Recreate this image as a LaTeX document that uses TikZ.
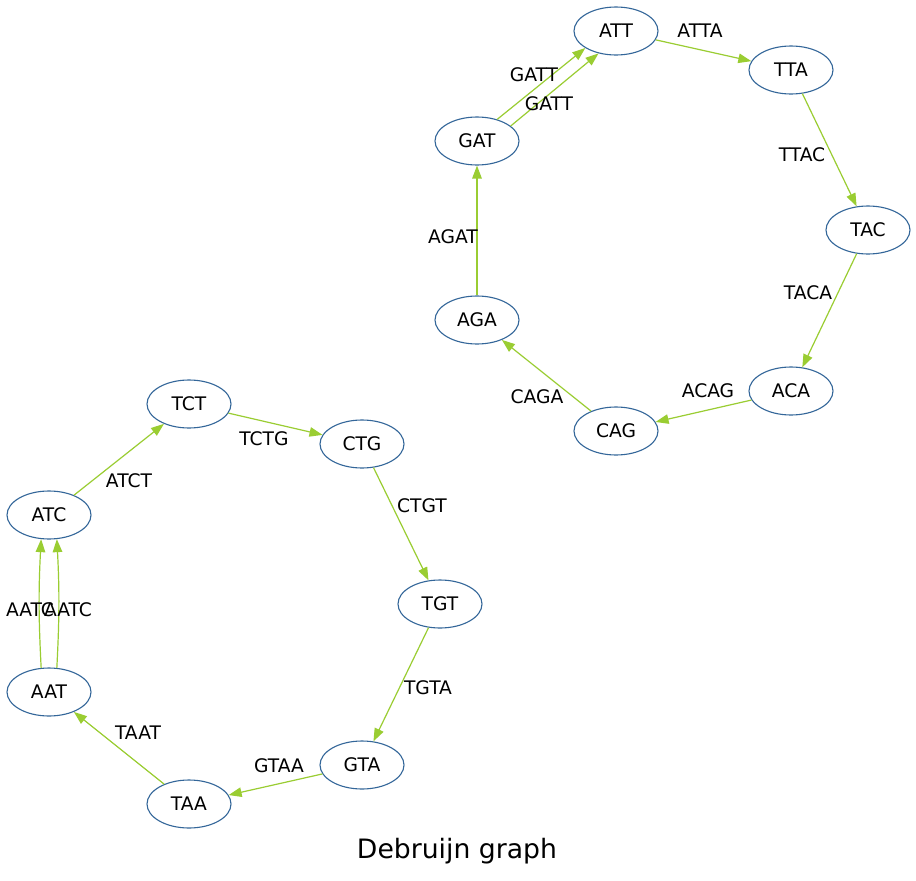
\documentclass[tikz,border=0pt]{standalone}
\usepackage{fontspec}
\setmainfont{DejaVu Sans}
\usetikzlibrary{shapes.geometric,arrows.meta}
\definecolor{nodeblue}{HTML}{336699}
\definecolor{edgegreen}{HTML}{9ACD32}
\begin{document}
\begin{tikzpicture}[x=1pt,y=-1pt,
  kmer/.style={ellipse,draw=nodeblue,line width=1.1pt,minimum width=84pt,minimum height=48pt,inner sep=0pt,font=\fontsize{18.67}{20}\selectfont},
  elab/.style={inner sep=0pt,font=\fontsize{18.67}{20}\selectfont},
  edge/.style={draw=edgegreen,line width=1.2pt,-{Triangle[length=13pt,width=9.5pt]}}]
\useasboundingbox[fill=white] (0,0) rectangle (916,881);
% right cycle
\node[kmer] (att) at (616,31) {ATT};
\node[kmer] (tta) at (791,70) {TTA};
\node[kmer] (tac) at (868,230) {TAC};
\node[kmer] (aca) at (791,391) {ACA};
\node[kmer] (cag) at (616,431) {CAG};
\node[kmer] (aga) at (477,320) {AGA};
\node[kmer] (gat) at (477,141) {GAT};
% left cycle
\node[kmer] (tct) at (189,404) {TCT};
\node[kmer] (ctg) at (362,444) {CTG};
\node[kmer] (tgt) at (440,604) {TGT};
\node[kmer] (gta) at (362,765) {GTA};
\node[kmer] (taa) at (189,804) {TAA};
\node[kmer] (aat) at (49,692) {AAT};
\node[kmer] (atc) at (49,515) {ATC};
% edges right
\draw[edge] (att) -- (tta);
\draw[edge] (tta) -- (tac);
\draw[edge] (tac) -- (aca);
\draw[edge] (aca) -- (cag);
\draw[edge] (cag) -- (aga);
\draw[edge] (aga) -- (gat);
\draw[edge] (gat.47) -- (att.209);
\draw[edge] (gat.24) -- (att.232);
% edges left
\draw[edge] (tct) -- (ctg);
\draw[edge] (ctg) -- (tgt);
\draw[edge] (tgt) -- (gta);
\draw[edge] (gta) -- (taa);
\draw[edge] (taa) -- (aat);
\draw[edge] (aat.108) to[bend left=3] (atc.252);
\draw[edge] (aat.72) to[bend right=3] (atc.288);
\draw[edge] (atc) -- (tct);
% labels
\node[elab] (l1) at (700,31) {ATTA};
\node[elab] (l2) at (802,155) {TTAC};
\node[elab] (l3) at (808,293) {TACA};
\node[elab] (l4) at (708,391) {ACAG};
\node[elab] (l5) at (537,397) {CAGA};
\node[elab] (l6) at (453,237) {AGAT};
\node[elab] (l7) at (534,75) {GATT};
\node[elab] (l8) at (549,104) {GATT};
\node[elab] (l9) at (264,439) {TCTG};
\node[elab] (l10) at (422,506) {CTGT};
\node[elab] (l11) at (428,688) {TGTA};
\node[elab] (l12) at (279,766) {GTAA};
\node[elab] (l13) at (138,733) {TAAT};
\node[elab] (l14) at (129,481) {ATCT};
\node[elab] (l15) at (30,610) {AATC};
\node[elab] (l16) at (68,610) {AATC};
\node[inner sep=0pt,font=\fontsize{26.67}{30}\selectfont] (title) at (457,851) {Debruijn graph};
\end{tikzpicture}
\end{document}
